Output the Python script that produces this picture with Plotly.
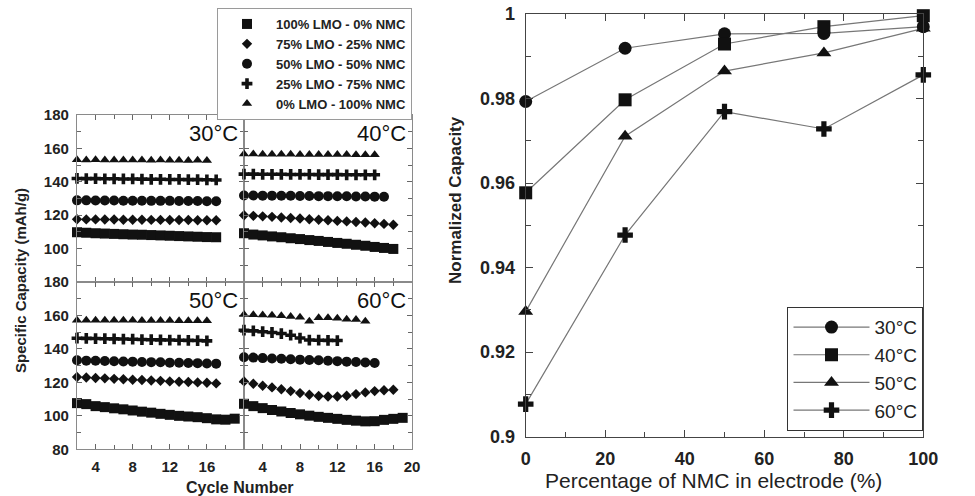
import plotly.graph_objects as go

# ---------------- data: left panels (specific capacity vs cycle) ----------------
series_names = ["100% LMO - 0% NMC", "75% LMO - 25% NMC", "50% LMO - 50% NMC",
                "25% LMO - 75% NMC", "0% LMO - 100% NMC"]
series_symbols = ["square", "diamond", "circle", "cross", "triangle-up"]
series_sizes = [10, 8, 10, 9, 9]

temps = ["30°C", "40°C", "50°C", "60°C"]

# 30 °C
c30_square = [109.8, 109.5, 109.2, 109.0, 108.8, 108.6, 108.4, 108.3, 108.1, 107.9, 107.7, 107.5, 107.3, 107.1, 106.9, 106.8]
c30_diamond = [117.6, 117.5, 117.5, 117.4, 117.4, 117.3, 117.3, 117.3, 117.2, 117.2, 117.1, 117.1, 117.1, 117.0, 117.0, 117.0]
c30_circle = [128.9, 128.9, 128.8, 128.8, 128.8, 128.7, 128.7, 128.7, 128.6, 128.6, 128.6, 128.5, 128.5, 128.5, 128.4, 128.4]
c30_cross = [142.0, 141.9, 141.9, 141.8, 141.8, 141.7, 141.7, 141.6, 141.5, 141.5, 141.4, 141.4, 141.3, 141.3, 141.2, 141.1]
c30_triangle = [153.2, 153.1, 153.2, 153.0, 153.1, 153.0, 153.1, 153.0, 152.9, 153.0, 152.9, 152.9, 152.8, 152.9, 152.8]

# 40 °C
c40_square = [109.2, 108.4, 107.9, 107.3, 106.8, 106.2, 105.7, 105.1, 104.6, 104.0, 103.4, 102.9, 102.3, 101.7, 101.0, 100.4, 99.8]
c40_diamond = [120.0, 119.6, 119.3, 119.0, 118.6, 118.3, 118.0, 117.6, 117.3, 117.0, 116.6, 116.3, 115.9, 115.6, 115.2, 114.8, 114.3]
c40_circle = [131.8, 131.8, 131.7, 131.7, 131.6, 131.6, 131.5, 131.5, 131.4, 131.4, 131.3, 131.3, 131.2, 131.2, 131.1, 131.0]
c40_cross = [144.6, 144.6, 144.5, 144.5, 144.5, 144.4, 144.4, 144.4, 144.3, 144.3, 144.3, 144.2, 144.2, 144.2, 144.2]
c40_triangle = [156.6, 156.6, 156.5, 156.5, 156.5, 156.5, 156.4, 156.4, 156.4, 156.3, 156.3, 156.3, 156.2, 156.2, 156.2]

# 50 °C
c50_square = [107.6, 107.0, 105.8, 105.2, 104.5, 103.9, 103.2, 102.5, 101.9, 101.2, 100.6, 100.0, 99.6, 99.2, 98.6, 97.9, 97.7, 98.3]
c50_diamond = [123.2, 122.9, 122.6, 122.4, 122.1, 121.9, 121.6, 121.4, 121.1, 120.9, 120.6, 120.4, 120.2, 120.0, 119.8, 119.4]
c50_circle = [133.2, 133.0, 132.9, 132.8, 132.6, 132.5, 132.4, 132.2, 132.1, 132.0, 131.8, 131.7, 131.6, 131.5, 131.3, 131.2]
c50_cross = [146.4, 146.3, 146.2, 146.1, 146.0, 145.9, 145.8, 145.6, 145.5, 145.4, 145.3, 145.2, 145.1, 145.0, 144.8]
c50_triangle = [157.2, 157.2, 157.2, 157.1, 157.1, 157.1, 157.1, 157.0, 157.0, 157.0, 157.0, 156.9, 156.9, 156.9, 156.9]

# 60 °C
c60_square = [107.2, 105.8, 104.6, 103.5, 102.6, 101.7, 100.9, 100.1, 99.4, 98.8, 98.2, 97.6, 97.1, 96.7, 96.8, 97.6, 98.2, 98.8]
c60_diamond = [120.6, 119.2, 118.0, 117.0, 115.9, 114.8, 113.6, 112.6, 111.9, 111.6, 111.6, 112.0, 113.0, 114.0, 114.8, 115.3, 115.6]
c60_circle = [135.0, 134.8, 134.5, 134.3, 134.1, 133.8, 133.6, 133.4, 133.2, 132.9, 132.7, 132.4, 132.2, 131.9, 131.6]
c60_cross = [151.2, 150.8, 150.3, 149.8, 149.2, 148.2, 146.5, 145.3, 145.2, 145.1, 145.0]
c60_triangle = [160.5, 160.4, 160.3, 160.2, 159.8, 159.4, 159.0, 156.6, 158.6, 158.6, 158.4, 157.8, 157.6, 156.6]

panel_data = [
    [c30_square, c30_diamond, c30_circle, c30_cross, c30_triangle],
    [c40_square, c40_diamond, c40_circle, c40_cross, c40_triangle],
    [c50_square, c50_diamond, c50_circle, c50_cross, c50_triangle],
    [c60_square, c60_diamond, c60_circle, c60_cross, c60_triangle],
]
first_cycle = 2

# ---------------- data: right panel (normalized capacity vs NMC %) ----------------
nmc_pct = [0, 25, 50, 75, 100]
norm_30 = [0.9793, 0.9919, 0.9953, 0.9954, 0.9970]
norm_40 = [0.9577, 0.9797, 0.9929, 0.9970, 0.9996]
norm_50 = [0.9296, 0.9711, 0.9865, 0.9908, 0.9966]
norm_60 = [0.9077, 0.9477, 0.9769, 0.9728, 0.9856]
right_names = ["30°C", "40°C", "50°C", "60°C"]
right_series = [norm_30, norm_40, norm_50, norm_60]
right_symbols = ["circle", "square", "triangle-up", "cross"]

FONT = "Liberation Sans, Arial, Helvetica, sans-serif"
W, H = 975, 496

fig = go.Figure()

# ---- left panels ----
for p, pdata in enumerate(panel_data):
    ax = "" if p == 0 else str(p + 1)
    for s, vals in enumerate(pdata):
        cyc = list(range(first_cycle, first_cycle + len(vals)))
        fig.add_trace(go.Scatter(
            x=cyc, y=vals, mode="markers",
            xaxis="x" + ax, yaxis="y" + ax,
            name=series_names[s], legend="legend",
            showlegend=(p == 0),
            cliponaxis=False,
            marker=dict(symbol=series_symbols[s], size=series_sizes[s], color="#111111",
                        line=dict(width=0)),
        ))

# ---- right panel ----
for i, vals in enumerate(right_series):
    fig.add_trace(go.Scatter(
        x=nmc_pct, y=vals, mode="lines+markers",
        xaxis="x5", yaxis="y5", name=right_names[i], legend="legend2",
        cliponaxis=False,
        line=dict(color="#777777", width=1.2),
        marker=dict(symbol=right_symbols[i], size=13, color="#111111", line=dict(width=0)),
    ))

# ---- geometry ----
def px_x(v):
    return v / W

def px_y(v):
    return 1 - v / H

xL0, xMid, xL1 = 77, 244, 412
yT0, yMidL, yB1 = 115, 282, 449.3

tickfont_l = dict(family=FONT, size=15, color="#222222", weight="bold")
tickfont_r = dict(family=FONT, size=18, color="#222222", weight="bold")

left_common = dict(showline=True, linecolor="#8a8a8a", linewidth=1.2, mirror="ticks",
                   ticks="inside", ticklen=5, tickcolor="#666666", tickwidth=1,
                   showgrid=False, zeroline=False, fixedrange=True)

def xax(dom, labels, tickvals):
    d = dict(left_common)
    d.update(domain=dom, range=[2, 20], tickmode="array", tickvals=tickvals,
             showticklabels=labels, tickfont=tickfont_l, ticklabelstandoff=4,
             minor=dict(ticks="inside", ticklen=4, dtick=2, tick0=0, tickcolor="#666666"))
    return d

def yax(dom, labels, tickvals):
    d = dict(left_common)
    d.update(domain=dom, range=[80, 180], tickmode="array", tickvals=tickvals,
             showticklabels=labels, tickfont=tickfont_l, ticklabelstandoff=4,
             minor=dict(ticks="inside", ticklen=4, dtick=10, tick0=80, tickcolor="#666666"))
    return d

domL = [px_x(xL0), px_x(xMid)]
domR = [px_x(xMid), px_x(xL1)]
domT = [px_y(yMidL), px_y(yT0)]
domB = [px_y(yB1), px_y(yMidL)]

fig.update_layout(
    xaxis=dict(xax(domL, False, [4, 8, 12, 16, 20]), anchor="y"),
    yaxis=dict(yax(domT, True, [100, 120, 140, 160, 180]), anchor="x"),
    xaxis2=dict(xax(domR, False, [4, 8, 12, 16, 20]), anchor="y2"),
    yaxis2=dict(yax(domT, False, [100, 120, 140, 160, 180]), anchor="x2"),
    xaxis3=dict(xax(domL, True, [4, 8, 12, 16]), anchor="y3"),
    yaxis3=dict(yax(domB, True, [80, 100, 120, 140, 160, 180]), anchor="x3"),
    xaxis4=dict(xax(domR, True, [4, 8, 12, 16, 20]), anchor="y4"),
    yaxis4=dict(yax(domB, False, [80, 100, 120, 140, 160, 180]), anchor="x4"),
    xaxis5=dict(domain=[px_x(525.7), px_x(923.3)], range=[0, 100], anchor="y5",
                tickmode="linear", tick0=0, dtick=20, showline=True, linecolor="#444444",
                linewidth=1.2, mirror="ticks", ticks="inside", ticklen=7, tickcolor="#444444",
                showgrid=False, zeroline=False, tickfont=tickfont_r, ticklabelstandoff=6,
                minor=dict(ticks="inside", ticklen=5, dtick=10, tick0=0, tickcolor="#444444")),
    yaxis5=dict(domain=[px_y(436.7), px_y(14)], range=[0.9, 1.0], anchor="x5",
                tickmode="linear", tick0=0.9, dtick=0.02, showline=True, linecolor="#444444",
                linewidth=1.2, mirror="ticks", ticks="inside", ticklen=7, tickcolor="#444444",
                showgrid=False, zeroline=False, tickfont=tickfont_r, ticklabelstandoff=6,
                minor=dict(ticks="inside", ticklen=5, dtick=0.01, tick0=0.9, tickcolor="#444444")),
)

# temperature annotations inside panels
temp_axes = [("x", "y"), ("x2", "y2"), ("x3", "y3"), ("x4", "y4")]
for t, (xa, ya) in zip(temps, temp_axes):
    fig.add_annotation(x=19.6, y=169, xref=xa, yref=ya, text=t, showarrow=False,
                       xanchor="right", yanchor="middle",
                       font=dict(family=FONT, size=22, color="#111111"))

# axis titles
fig.add_annotation(x=px_x(20), y=px_y(281), xref="paper", yref="paper",
                   xanchor="center", yanchor="middle",
                   text="Specific Capacity (mAh/g)", textangle=-90, showarrow=False,
                   font=dict(family=FONT, size=15, color="#222222", weight="bold"))
fig.add_annotation(x=px_x(240), y=px_y(487), xref="paper", yref="paper",
                   xanchor="center", yanchor="middle",
                   text="Cycle Number", showarrow=False,
                   font=dict(family=FONT, size=16, color="#222222", weight="bold"))
fig.add_annotation(x=px_x(455), y=px_y(200), xref="paper", yref="paper",
                   xanchor="center", yanchor="middle",
                   text="Normalized Capacity", textangle=-90, showarrow=False,
                   font=dict(family=FONT, size=17, color="#222222", weight="bold"))
fig.add_annotation(x=px_x(713), y=px_y(480), xref="paper", yref="paper",
                   xanchor="center", yanchor="middle",
                   text="Percentage of NMC in electrode (%)", showarrow=False,
                   font=dict(family=FONT, size=21, color="#222222"))

fig.update_layout(
    width=W, height=H,
    margin=dict(l=0, r=0, t=0, b=0, autoexpand=False),
    paper_bgcolor="white", plot_bgcolor="white",
    legend=dict(x=px_x(412), y=px_y(8), xanchor="right", yanchor="top",
                bordercolor="#9a9a9a", borderwidth=1, bgcolor="white",
                font=dict(family=FONT, size=13, color="#222222", weight="bold"),
                itemwidth=48, tracegroupgap=0, traceorder="normal"),
    legend2=dict(x=px_x(923.3), y=px_y(307), xanchor="right", yanchor="top",
                 bordercolor="#333333", borderwidth=1.2, bgcolor="white",
                 font=dict(family=FONT, size=19, color="#222222"),
                 itemwidth=76, tracegroupgap=0, traceorder="normal"),
)

fig.write_html("out.html", post_script="document.body.style.margin='0';",
               config={"displayModeBar": False})
